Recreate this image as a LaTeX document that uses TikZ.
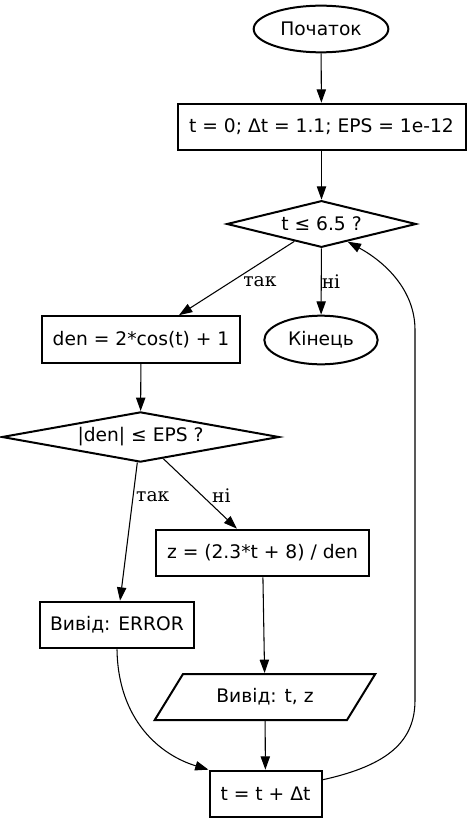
\documentclass[tikz,border=0pt]{standalone}
\usepackage{fontspec}
\setmainfont{DejaVu Sans}
\newfontfamily\lblfont{DejaVu Serif}
\usetikzlibrary{shapes.geometric,arrows.meta}

\begin{document}
\begin{tikzpicture}
  [x=0.75pt,y=-0.75pt,
   font=\fontsize{14}{17}\selectfont,
   box/.style={draw,line width=1.5pt,inner sep=0pt,minimum height=35pt},
   term/.style={draw,ellipse,line width=1.5pt,inner sep=0pt},
   test/.style={draw,diamond,aspect=4,line width=1.5pt,inner sep=0pt},
   io/.style={draw,trapezium,trapezium left angle=45,trapezium right angle=135,
     trapezium stretches=true,line width=1.5pt,inner sep=0pt},
   flow/.style={-{Triangle[length=10pt,width=7pt]},line width=0.8pt},
   yesno/.style={font=\lblfont\fontsize{14}{17}\selectfont,inner sep=0pt}]
\useasboundingbox (0,0) rectangle (471,824);
\path
    (321,29) node [term,minimum width=101pt,minimum height=35pt] (start) {Початок}
    (321.5,127) node [box,minimum width=216pt] (init) {t = 0; Δt = 1.1; EPS = 1e-12}
    (321.5,224) node [test,minimum width=142pt,minimum height=35pt] (cond) {t ≤ 6.5 ?}
    (141,339.5) node [box,minimum width=148pt] (den) {den = 2*cos(t) + 1}
    (321,340) node [term,minimum width=85pt,minimum height=36.5pt] (stop) {Кінець}
    (140.5,437) node [test,minimum width=208pt,minimum height=34.5pt] (check) {|den| ≤ EPS ?}
    (262.5,553) node [box,minimum width=160pt] (calc) {z = (2.3*t + 8) / den}
    (117,625) node [box,minimum width=116pt] (err) {Вивід: ERROR}
    (265,697) node [io,minimum width=167pt,minimum height=34.5pt] (print) {Вивід: t, z}
    (265.5,794) node [box,minimum width=84pt] (inc) {t = t + Δt};

\draw [flow] (start) -- (init);
\draw [flow] (init) -- (cond);
\draw [flow] (cond) -- node [yesno,pos=.55,right=9pt] {так} (den);
\draw [flow] (cond) -- node [yesno,pos=.5,right=0pt] {ні} (stop);
\draw [flow] (den) -- (check);
\draw [flow] (check) -- node [yesno,pos=.25,right=2pt] {так} (err);
\draw [flow] (check) -- node [yesno,pos=.53,right=7pt] {ні} (calc);
\draw [flow] (calc) -- (print);
\draw [flow] (print) -- (inc);
\draw [flow]
    (err.south) .. controls (118,720) and (160,755) .. (inc.north west);
\draw [flow]
    (inc.14) .. controls (390,765) and (415,740) .. (415,700) -- (415,330)
    .. controls (415,290) and (385,262) .. (cond.-34);
\end{tikzpicture}
\end{document}
